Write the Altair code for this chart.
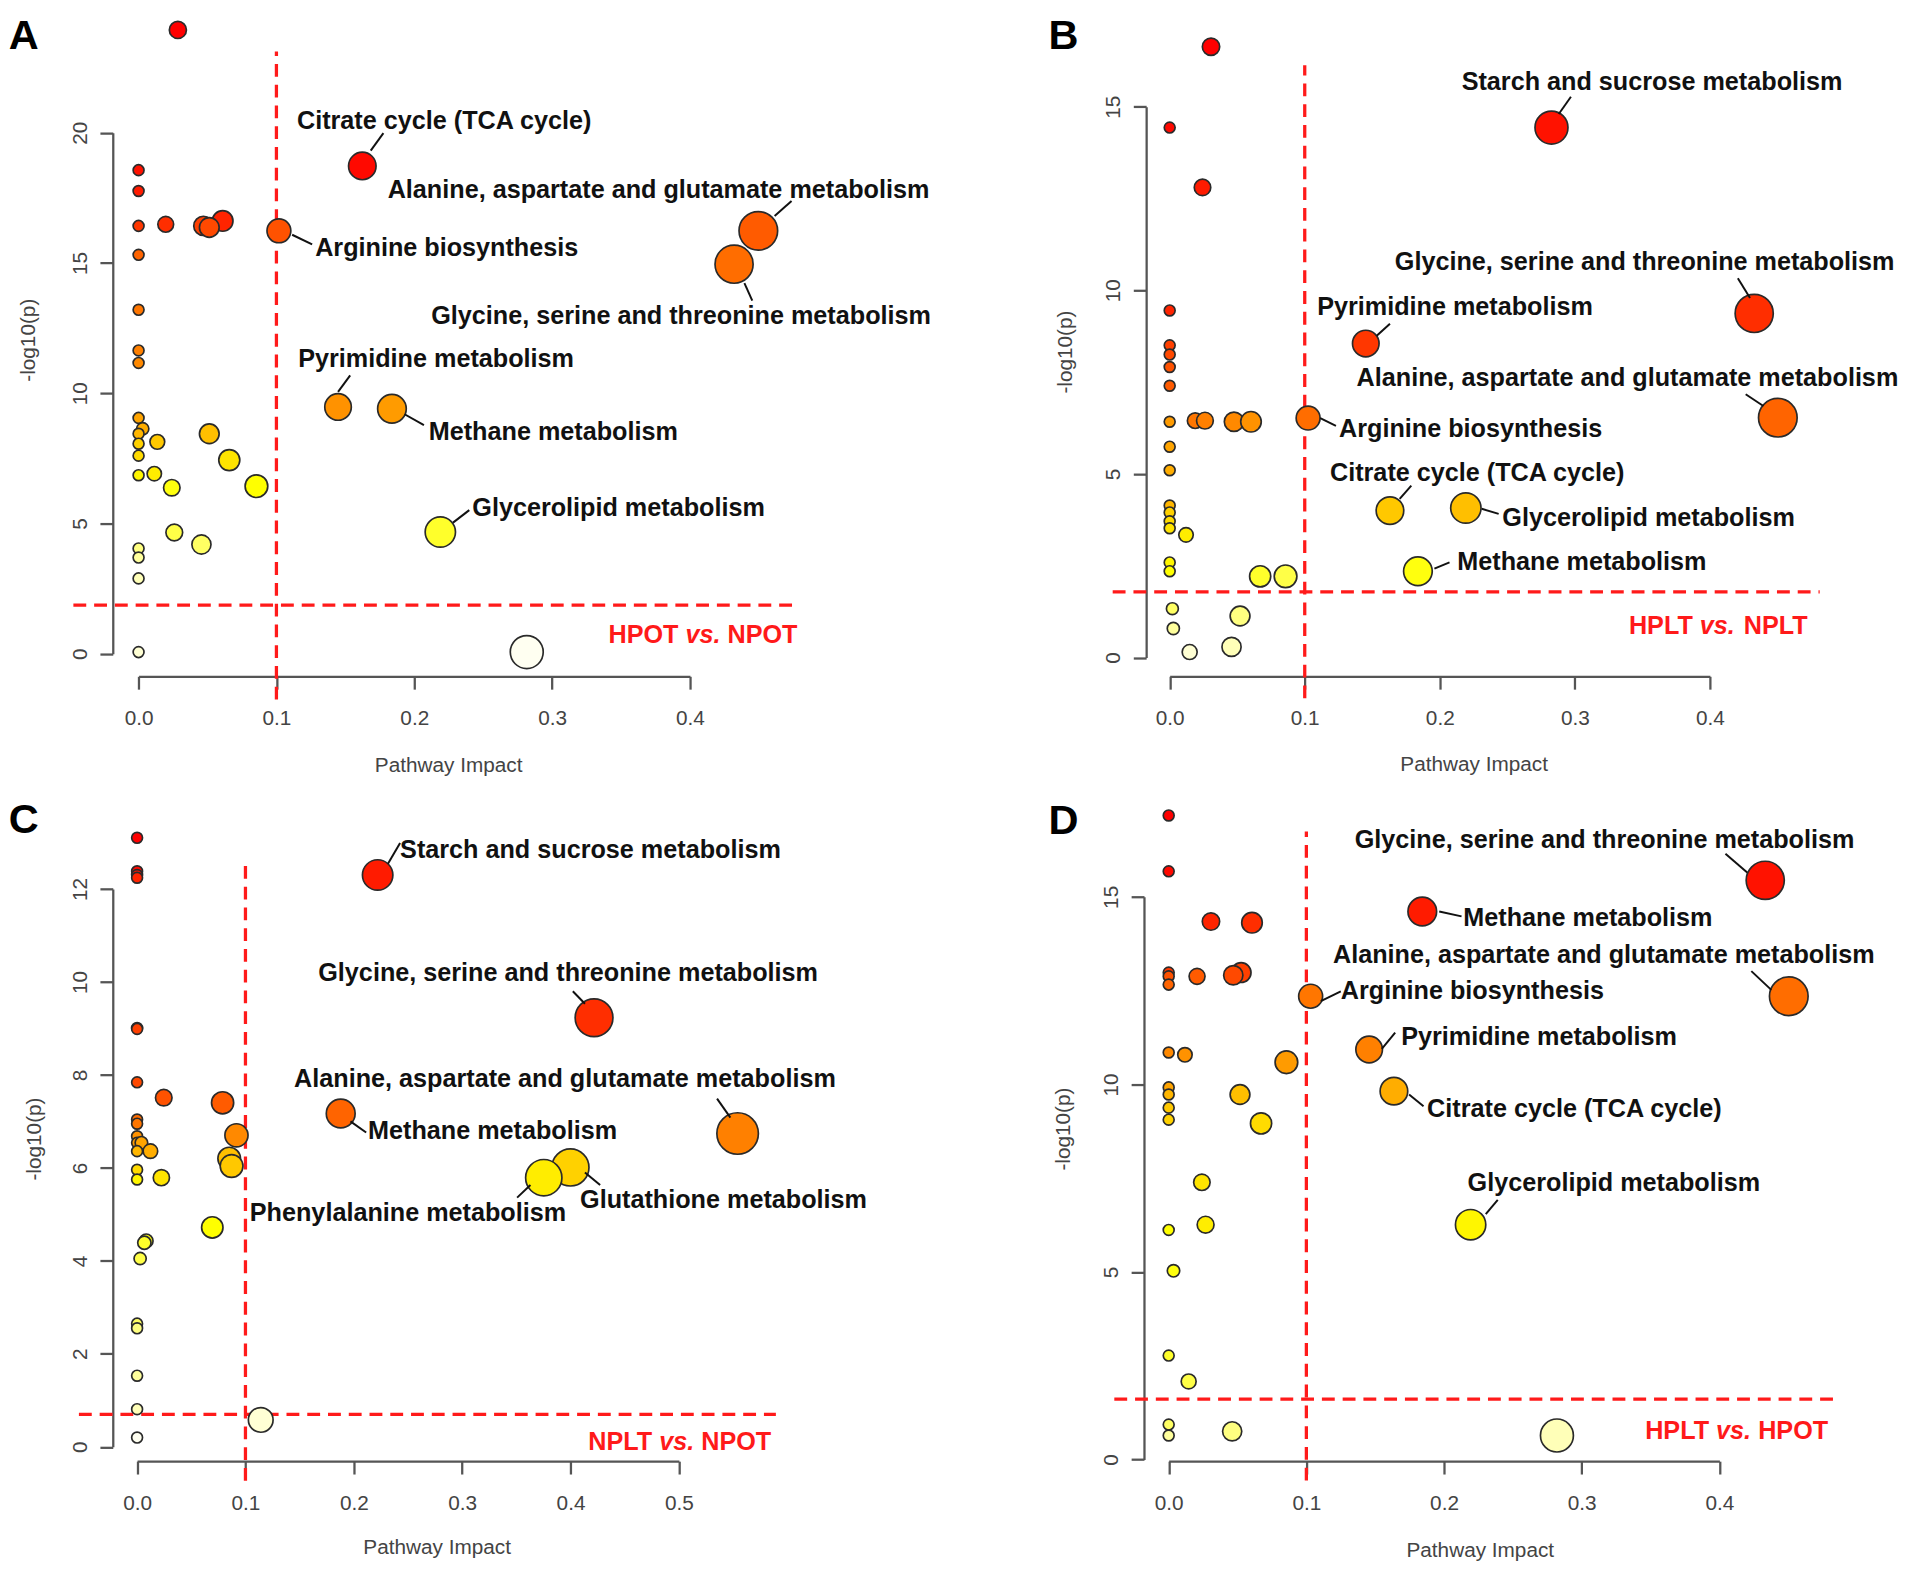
import altair as alt
import pandas as pd

FONT = "Liberation Sans"
RED = "#FF1A1A"
AXC = "#555555"
TXT = "#111111"

# ---------------- Panel A : HPOT vs. NPOT ----------------
A_impact = [0.0285, 0.1623, 0, 0, 0, 0.0197, 0.061, 0.047, 0.0513, 0.1018, 0, 0.4496, 0.432,
            0, 0, 0, 0.1447, 0.1838, 0, 0.003, 0, 0, 0.0136, 0.0513, 0, 0.0658, 0, 0.0114,
            0.0855, 0.0241, 0.0259, 0.0456, 0.2189, 0, 0, 0, 0, 0.2816]
A_logp = [23.94, 18.72, 18.56, 17.76, 16.42, 16.48, 16.61, 16.42, 16.36, 16.23, 15.31, 16.23, 14.95,
          13.2, 11.64, 11.16, 9.47, 9.40, 9.05, 8.63, 8.44, 8.06, 8.13, 8.44, 7.60, 7.43, 6.85, 6.91,
          6.43, 6.37, 4.65, 4.19, 4.67, 4.04, 3.69, 2.89, 0.06, 0.06]
A_labels = ["Citrate cycle (TCA cycle)", "Alanine, aspartate and glutamate metabolism",
            "Arginine biosynthesis", "Glycine, serine and threonine metabolism",
            "Pyrimidine metabolism", "Methane metabolism", "Glycerolipid metabolism"]
A_lab_x = [0.1149, 0.1807, 0.1281, 0.2123, 0.1158, 0.2105, 0.2421]
A_lab_y = [20.44, 17.80, 15.56, 12.94, 11.31, 8.52, 5.57]
A_lead = [(0.1684, 19.31, 0.1776, 19.98), (0.4737, 17.38, 0.4614, 16.80), (0.1114, 16.08, 0.1259, 15.71),
          (0.4395, 14.22, 0.4452, 13.55), (0.1535, 10.68, 0.1447, 10.05), (0.193, 9.19, 0.207, 8.77),
          (0.2399, 5.51, 0.2281, 5.03)]
A_vline = (0.1, -1.76, 23.11)      # x, y from, y to
A_hline = (1.86, -0.0473, 0.479)   # y, x from, x to
A_group = ("HPOT", "NPOT", 0.478, 0.73)

# ---------------- Panel B : HPLT vs. NPLT ----------------
B_impact = [0.0306, 0, 0.2827, 0.0243, 0, 0.4328, 0, 0, 0, 0.1452, 0, 0.4503, 0.0189, 0.0261,
            0.0476, 0.0602, 0.1025, 0, 0, 0, 0, 0, 0, 0, 0.0121, 0.1631, 0.2193, 0, 0, 0.1838,
            0.0670, 0.0858, 0.002, 0.0521, 0.0027, 0.0148, 0.0458]
B_logp = [16.63, 14.43, 14.43, 12.80, 9.45, 9.37, 8.50, 8.25, 7.91, 8.55, 7.40, 6.53, 6.45, 6.45,
          6.42, 6.42, 6.52, 6.42, 5.74, 5.10, 4.14, 3.95, 3.71, 3.52, 3.34, 4.00, 4.07, 2.59, 2.35,
          2.35, 2.21, 2.21, 1.33, 1.13, 0.79, 0.15, 0.29]
B_labels = ["Starch and sucrose metabolism", "Glycine, serine and threonine metabolism",
            "Pyrimidine metabolism", "Alanine, aspartate and glutamate metabolism",
            "Arginine biosynthesis", "Citrate cycle (TCA cycle)", "Glycerolipid metabolism",
            "Methane metabolism"]
B_lab_x = [0.2162, 0.1667, 0.1092, 0.1384, 0.1254, 0.1187, 0.2463, 0.2130]
B_lab_y = [15.68, 10.76, 9.54, 7.62, 6.22, 5.02, 3.80, 2.59]
B_lead = [(0.2971, 15.27, 0.2881, 14.80), (0.4207, 10.33, 0.4297, 9.79), (0.1631, 9.09, 0.1533, 8.76),
          (0.4265, 7.17, 0.4396, 6.85), (0.1115, 6.52, 0.1231, 6.31), (0.1789, 4.68, 0.1703, 4.32),
          (0.231, 4.05, 0.2436, 3.91), (0.196, 2.42, 0.2072, 2.59)]
B_vline = (0.1, -1.11, 16.13)
B_hline = (1.79, -0.0422, 0.4813)
B_group = ("HPLT", "NPLT", 0.4724, 0.855)

# ---------------- Panel C : NPLT vs. NPOT ----------------
C_impact = [0, 0, 0, 0, 0.222, 0.4217, 0, 0, 0, 0.0246, 0.0789, 0.1879, 0, 0, 0.5542, 0.0917, 0, 0,
            0.004, 0.0123, 0, 0.085, 0.0872, 0.3999, 0, 0, 0.0224, 0.3753, 0.0694, 0.0084, 0.0067,
            0.0028, 0, 0, 0, 0, 0.1141, 0]
C_logp = [13.10, 12.38, 12.30, 12.24, 12.30, 9.23, 9.01, 8.99, 7.84, 7.51, 7.40, 7.17, 7.04, 6.95,
          6.74, 6.70, 6.68, 6.54, 6.54, 6.36, 6.36, 6.20, 6.04, 6.01, 5.96, 5.75, 5.79, 5.79, 4.72,
          4.43, 4.39, 4.05, 2.65, 2.55, 1.53, 0.81, 0.58, 0.20]
C_labels = ["Starch and sucrose metabolism", "Glycine, serine and threonine metabolism",
            "Alanine, aspartate and glutamate metabolism", "Methane metabolism",
            "Glutathione metabolism", "Phenylalanine metabolism"]
C_lab_x = [0.2427, 0.1672, 0.1449, 0.2131, 0.4088, 0.104]
C_lab_y = [12.84, 10.20, 7.90, 6.79, 5.31, 5.02]
C_lead = [(0.2427, 12.99, 0.2315, 12.54), (0.4021, 9.80, 0.4133, 9.53), (0.5352, 7.49, 0.5475, 7.08),
          (0.1969, 7.00, 0.2114, 6.76), (0.4133, 5.90, 0.4273, 5.63), (0.363, 5.63, 0.3507, 5.36)]
C_vline = (0.1, -0.73, 12.65)
C_hline = (0.70, -0.0537, 0.5895)
C_group = ("NPLT", "NPOT", 0.5852, 0.097)

# ---------------- Panel D : HPLT vs. HPOT ----------------
D_impact = [0, 0, 0.4333, 0.1842, 0.0307, 0.0605, 0, 0, 0, 0.0206, 0.0526, 0.0469, 0.4504, 0.1031,
            0, 0.0118, 0.0855, 0.1456, 0, 0, 0.0518, 0.1636, 0, 0, 0.0671, 0.0241, 0.0268, 0.2193,
            0, 0.0035, 0, 0.0145, 0, 0, 0.0461, 0.282]
D_logp = [17.17, 15.68, 15.44, 14.61, 14.34, 14.31, 12.98, 12.88, 12.66, 12.88, 12.98, 12.91, 12.35,
          12.35, 10.85, 10.79, 10.59, 10.93, 9.92, 9.73, 9.73, 9.82, 9.38, 9.06, 8.96, 7.39, 6.26,
          6.26, 6.12, 5.03, 2.77, 2.08, 0.93, 0.64, 0.75, 0.64]
D_labels = ["Glycine, serine and threonine metabolism", "Methane metabolism",
            "Alanine, aspartate and glutamate metabolism", "Arginine biosynthesis",
            "Pyrimidine metabolism", "Citrate cycle (TCA cycle)", "Glycerolipid metabolism"]
D_lab_x = [0.1351, 0.214, 0.1193, 0.125, 0.1689, 0.1877, 0.2171]
D_lab_y = [16.50, 14.44, 13.44, 12.49, 11.25, 9.33, 7.36]
D_lead = [(0.4044, 16.15, 0.4202, 15.65), (0.1965, 14.61, 0.2127, 14.48), (0.4232, 13.02, 0.4377, 12.52),
          (0.1105, 12.22, 0.125, 12.48), (0.1645, 11.38, 0.1548, 10.95), (0.1746, 9.73, 0.1851, 9.42),
          (0.239, 6.92, 0.2303, 6.54)]
D_vline = (0.1, -0.56, 16.74)
D_hline = (1.61, -0.0395, 0.4833)
D_group = ("HPLT", "HPOT", 0.479, 0.77)

# ---------------- layout / style (pixels) ----------------
GEO = {
    "A": dict(W=760, H=672.5, xdom=[0, 0.4], xr=[26.1, 583.9], ydom=[0, 20], yr=[649.6, 122.5],
              xt=[0, 0.1, 0.2, 0.3, 0.4], yt=[0, 5, 10, 15, 20], xtx=339.3, xty=90.3,
              ytx=-85, yty=332, yoff=0, amax=1765, letter="A", lx=-105.3, ly=5),
    "B": dict(W=720, H=672.5, xdom=[0, 0.4], xr=[21.5, 568], ydom=[0, 15], yr=[653.5, 96.2],
              xt=[0, 0.1, 0.2, 0.3, 0.4], yt=[0, 5, 10, 15], xtx=329, xty=89,
              ytx=-81.7, yty=344, yoff=2.3, amax=1662, letter="B", lx=-101, ly=5),
    "C": dict(W=760, H=669, xdom=[0, 0.5], xr=[24.6, 572.7], ydom=[0, 12], yr=[654.5, 90.1],
              xt=[0, 0.1, 0.2, 0.3, 0.4, 0.5], yt=[0, 2, 4, 6, 8, 10, 12], xtx=327.6, xty=87.7,
              ytx=-79.6, yty=342.6, yoff=0, amax=1257, letter="C", lx=-105.3, ly=1),
    "D": dict(W=720, H=669, xdom=[0, 0.4], xr=[20.5, 577.6], ydom=[0, 15], yr=[667.3, 98.1],
              xt=[0, 0.1, 0.2, 0.3, 0.4], yt=[0, 5, 10, 15], xtx=335.2, xty=90.3,
              ytx=-81.6, yty=332.5, yoff=4.5, amax=1662, letter="D", lx=-101, ly=2),
}

LABEL_FS = 25.5
LETTER_FS = 42
BOLD_W = {'H': .722, 'P': .667, 'O': .778, 'T': .611, 'N': .722, 'L': .611, ' ': .278,
          'v': .556, 's': .556, '.': .278}


def tw(s, fs=LABEL_FS):
    return sum(BOLD_W.get(c, 0.6) for c in s) * fs


def hexc(r, g, b):
    return "#%02x%02x%02x" % (int(round(r)), int(round(g)), int(round(b)))


def heat_colors(n):
    """The n colours of R's heat.colors(n), from red to pale yellow."""
    j = n // 4
    i = n - j
    cols = [hexc(255, 255 * k / (i - 1), 0) for k in range(i)]
    if j == 1:
        cols.append(hexc(255, 255, 255 * 0.5))
    elif j > 1:
        s_hi, s_lo = 1 - 1 / (2 * j), 1 / (2 * j)
        for k in range(j):
            s = s_hi + (s_lo - s_hi) * k / (j - 1)
            cols.append(hexc(255, 255, 255 * (1 - s)))
    return cols


def panel(impact, logp, labels, lab_x, lab_y, leads, vline, hline, group, g):
    pts = pd.DataFrame({"x": impact, "y": logp})
    pts["order"] = range(len(pts))
    n = len(pts)

    xs = alt.Scale(domain=g["xdom"], range=g["xr"], nice=False, zero=False)
    ys = alt.Scale(domain=g["ydom"], range=g["yr"], nice=False, zero=False)
    xaxis = alt.Axis(values=g["xt"], format=".1f", title="Pathway Impact", grid=False,
                     domainColor=AXC, domainWidth=2.3, tickColor=AXC, tickWidth=2.3, tickSize=13,
                     labelFont=FONT, labelFontSize=21, labelColor="#444444", labelPadding=19,
                     labelFlush=False, labelOverlap=False,
                     titleFont=FONT, titleFontSize=21, titleFontWeight="normal", titleColor="#444444",
                     titleX=g["xtx"], titleY=g["xty"], titleAlign="center", titleBaseline="middle")
    yaxis = alt.Axis(values=g["yt"], format="d", title="-log10(p)", grid=False, offset=g["yoff"],
                     domainColor=AXC, domainWidth=2.3, tickColor=AXC, tickWidth=2.3, tickSize=13,
                     labelFont=FONT, labelFontSize=21, labelColor="#444444", labelPadding=10,
                     labelAngle=270, labelAlign="center", labelBaseline="bottom",
                     labelFlush=False, labelOverlap=False,
                     titleFont=FONT, titleFontSize=21, titleFontWeight="normal", titleColor="#444444",
                     titleAngle=270, titleX=g["ytx"], titleY=g["yty"], titleAlign="center",
                     titleBaseline="middle")
    X = alt.X("x:Q", scale=xs, axis=xaxis)
    Y = alt.Y("y:Q", scale=ys, axis=yaxis)

    thr = pd.DataFrame({"x": [vline[0], hline[1]], "x2": [vline[0], hline[2]],
                        "y": [vline[1], hline[0]], "y2": [vline[2], hline[0]]})
    rules = alt.Chart(thr).mark_rule(color=RED, strokeWidth=3.3, strokeDash=[13, 8]).encode(
        x=X, x2="x2:Q", y=Y, y2="y2:Q")

    points = alt.Chart(pts).transform_window(
        rank="row_number()", sort=[alt.SortField("y", order="descending")]
    ).mark_circle(stroke="#2a2a2a", strokeWidth=1.7, opacity=1).encode(
        x=X, y=Y,
        size=alt.Size("x:Q", scale=alt.Scale(type="pow", exponent=0.75, domain=[0, max(impact)],
                                             range=[121, g["amax"]]), legend=None),
        fill=alt.Fill("rank:Q", scale=alt.Scale(domain=[1, n], range=heat_colors(n),
                                                interpolate="rgb"), legend=None),
        order=alt.Order("order:Q"),
    )

    ld = pd.DataFrame(leads, columns=["x", "y", "x2", "y2"])
    leaders = alt.Chart(ld).mark_rule(color=TXT, strokeWidth=2).encode(
        x=X, x2="x2:Q", y=Y, y2="y2:Q")

    lab = pd.DataFrame({"x": lab_x, "y": lab_y, "t": labels})
    texts = alt.Chart(lab).mark_text(align="left", baseline="middle", font=FONT,
                                     fontSize=LABEL_FS, fontWeight="bold", color=TXT).encode(
        x=X, y=Y, text="t:N")

    left_w, right_w, gx, gy = group
    gd = pd.DataFrame({"x": [gx], "y": [gy], "a": [left_w], "b": [right_w], "v": ["vs."]})
    dx_vs = -(tw(right_w) + tw(" "))
    dx_left = dx_vs - tw("vs.") - tw(" ")
    gstyle = dict(align="right", baseline="middle", font=FONT, fontSize=LABEL_FS,
                  fontWeight="bold", color=RED)
    g1 = alt.Chart(gd).mark_text(**gstyle).encode(x=X, y=Y, text="b:N")
    g2 = alt.Chart(gd).mark_text(dx=dx_vs, fontStyle="italic", **gstyle).encode(x=X, y=Y, text="v:N")
    g3 = alt.Chart(gd).mark_text(dx=dx_left, **gstyle).encode(x=X, y=Y, text="a:N")

    letter = alt.Chart(pd.DataFrame({"t": [g["letter"]]})).mark_text(
        align="left", baseline="top", font=FONT, fontSize=LETTER_FS, fontWeight="bold",
        color="#000000").encode(text="t:N", x=alt.value(g["lx"]), y=alt.value(g["ly"]))

    return alt.layer(rules, points, leaders, texts, g1, g2, g3, letter).properties(
        width=g["W"], height=g["H"])


pA = panel(A_impact, A_logp, A_labels, A_lab_x, A_lab_y, A_lead, A_vline, A_hline, A_group, GEO["A"])
pB = panel(B_impact, B_logp, B_labels, B_lab_x, B_lab_y, B_lead, B_vline, B_hline, B_group, GEO["B"])
pC = panel(C_impact, C_logp, C_labels, C_lab_x, C_lab_y, C_lead, C_vline, C_hline, C_group, GEO["C"])
pD = panel(D_impact, D_logp, D_labels, D_lab_x, D_lab_y, D_lead, D_vline, D_hline, D_group, GEO["D"])

chart = alt.concat(pA, pB, pC, pD, columns=2, bounds="flush",
                   spacing={"row": 124.5, "column": 287.7}).properties(
    padding={"top": -5.5, "left": 0, "right": 0, "bottom": 0}, background="white"
).configure_view(stroke=None)

chart.save("out.html", embed_options={"renderer": "svg", "actions": False})
